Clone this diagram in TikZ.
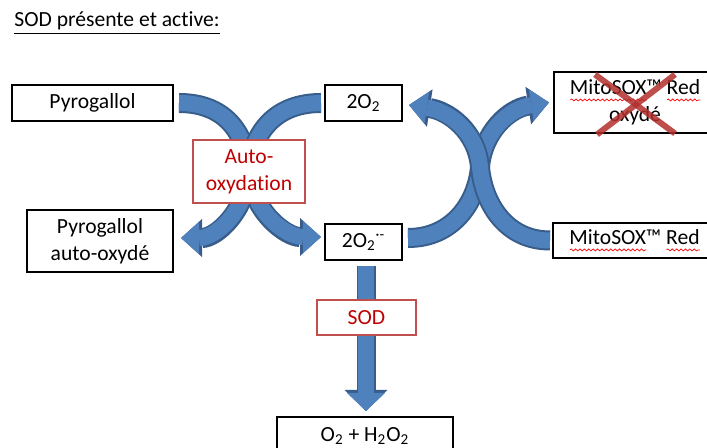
\documentclass[tikz,border=0pt]{standalone}
\usepackage{fontspec}
\setmainfont[Ligatures=NoCommon]{Carlito}
\usetikzlibrary{arrows.meta, calc, backgrounds, decorations.pathmorphing}
\definecolor{bandblue}{RGB}{79,129,189}
\definecolor{bandedge}{RGB}{56,93,138}
\definecolor{boxred}{RGB}{192,80,77}
\definecolor{crossred}{RGB}{178,48,45}
\definecolor{textred}{RGB}{192,0,0}
% red wavy spell-check underline
\newcommand\spell[1]{\leavevmode\setbox0\hbox{#1}%
  \rlap{\tikz[baseline=0pt]\draw[red, line width=0.35pt, decorate,
    decoration={snake, amplitude=0.5pt, segment length=2.2pt}] (0pt,-2.6pt) -- (\wd0,-2.6pt);}\box0}
\tikzset{
  every node/.style={font=\fontsize{10.8}{13.5}\selectfont},
  box/.style    = {rectangle, draw=black, line width=1pt, fill=white,
                   inner sep=0pt, align=center},
  redbox/.style = {rectangle, draw=boxred, line width=0.8pt, fill=white, text=textred,
                   inner sep=0pt, align=center},
  band/.style   = {draw=bandblue, line width=8pt,
                   -{Triangle[length=9pt, width=16pt, line width=0pt]},
                   preaction={draw=bandedge, line width=10pt,
                   -{Triangle[length=10.5pt, width=19pt, line width=0pt]}}},
  sodband/.style = {draw=bandblue, line width=8pt,
                   -{Triangle[length=9pt, width=19pt, line width=0pt]},
                   preaction={draw=bandedge, line width=9.5pt,
                   -{Triangle[length=10.5pt, width=21.5pt, line width=0pt]}}},
  cross/.style  = {draw=crossred, opacity=0.85, line width=3pt},
}

\begin{document}
\begin{tikzpicture}[x=0.5pt, y=-0.5pt]
  \useasboundingbox (0,0) rectangle (707,448);

  \node[anchor=base west, inner sep=0pt] (title) at (14,27) {\underline{SOD présente et active:}};

  % ---- left reaction ----
  \node[box, minimum width=80.5pt, minimum height=18pt] (pyro)  at (92.5,103)  {Pyrogallol};
  \node[box, minimum width=38.5pt, minimum height=18pt] (o2)    at (363.5,103) {2O\textsubscript{2}};
  \node[redbox, minimum width=56pt, minimum height=31.5pt] (auto) at (249,171.5) {Auto-\\oxydation};
  \node[box, minimum width=73pt, minimum height=31pt]   (pyrox) at (100,241)   {Pyrogallol\\auto-oxydé};
  \node[box, minimum width=38.5pt, minimum height=18pt] (o2r)   at (363.5,242) {2O\textsubscript{2}\textsuperscript{·-}};

  % ---- MitoSOX ----
  \node[box, minimum width=81pt, minimum height=30.5pt]   (mitox) at (635,102.5) {\spell{MitoSOX}™ \spell{Red}\\oxydé};
  \node[box, minimum width=81.5pt, minimum height=17.5pt] (mito)  at (634.5,240.5) {\spell{MitoSOX}™ \spell{Red}};
  \coordinate (x2) at (480,167);

  % ---- SOD ----
  \node[redbox, minimum width=49.5pt, minimum height=17.5pt] (sod) at (366.5,317.5) {SOD};
  \node[box, minimum width=88pt, minimum height=19pt] (prod) at (365,436) {O\textsubscript{2} + H\textsubscript{2}O\textsubscript{2}};

  \begin{scope}[on background layer]
    \draw[band] ($(pyro.east)+(5,0)$) .. controls +(45,0) and +(-3,-40) .. (auto.center)
                .. controls +(3,40) and +(-35,0) .. ($(o2r.west)+(-3,-5)$);
    \draw[band] ($(o2.west)+(-3,0)$) .. controls +(-45,0) and +(3,-40) .. (auto.center)
                .. controls +(-3,40) and +(35,0) .. ($(pyrox.east)+(7,-3)$);
    \draw[band] ($(o2r.east)+(5,-4)$) .. controls +(45,0) and +(-3,35) .. (x2)
                .. controls +(3,-35) and +(-40,6) .. ($(mitox.west)+(-4,0)$);
    \draw[band] ($(mito.west)+(-2,0)$) .. controls +(-45,0) and +(3,35) .. (x2)
                .. controls +(-3,-35) and +(40,6) .. ($(o2.east)+(6,2)$);
    \draw[sodband] ($(o2r.south)+(2.5,5)$) -- ($(prod.north)+(1,-5)$);
  \end{scope}

  \draw[cross] ($(mitox.center)+(-40,-28)$) -- ($(mitox.center)+(40,31)$);
  \draw[cross] ($(mitox.center)+(40,-28)$) -- ($(mitox.center)+(-38,32)$);
\end{tikzpicture}
\end{document}
